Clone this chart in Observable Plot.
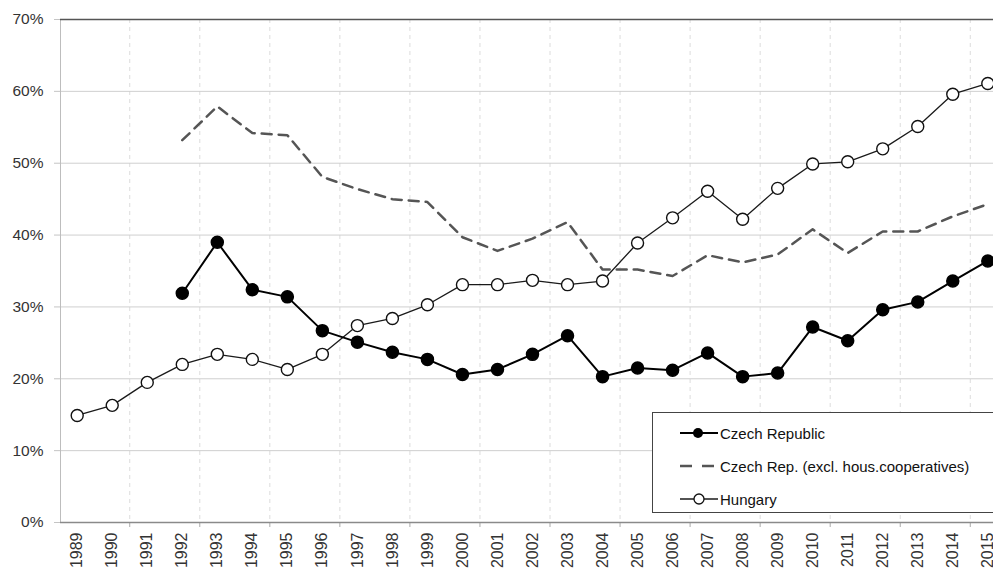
<!DOCTYPE html>
<html><head><meta charset="utf-8">
<script src="https://cdn.jsdelivr.net/npm/d3@7"></script>
<script src="https://cdn.jsdelivr.net/npm/@observablehq/plot@0.6"></script>
<style>
body{margin:0;background:#fff;overflow:hidden}
#wrap{position:relative;width:993px;height:571px;overflow:hidden;font-family:"Liberation Sans",Arial,sans-serif}
#legend{position:absolute;left:652px;top:412px;width:360px;height:101px;border:1.5px solid #444;background:#fff;box-sizing:border-box}
.row{position:absolute;left:26px;height:20px;display:flex;align-items:center;font-size:15px;color:#111;white-space:nowrap}
.row svg{margin-right:1px}
</style></head>
<body><div id="wrap"></div>
<script>
const years = [1989,1990,1991,1992,1993,1994,1995,1996,1997,1998,1999,2000,2001,2002,2003,2004,2005,2006,2007,2008,2009,2010,2011,2012,2013,2014,2015];
const czech = [null,null,null,31.9,39.0,32.4,31.4,26.7,25.1,23.7,22.7,20.6,21.3,23.4,26.0,20.3,21.5,21.2,23.6,20.3,20.8,27.2,25.3,29.6,30.7,33.6,36.4];
const czechExcl = [null,null,null,53.2,57.9,54.2,53.9,48.1,46.4,45.0,44.6,39.7,37.8,39.5,41.8,35.2,35.2,34.3,37.2,36.2,37.3,40.8,37.5,40.5,40.5,42.6,44.3];
const hungary = [14.9,16.3,19.5,22.0,23.4,22.7,21.3,23.4,27.4,28.4,30.3,33.1,33.1,33.7,33.1,33.6,38.9,42.4,46.1,42.2,46.5,49.9,50.2,52.0,55.1,59.6,61.1];
const yTicks = [0,10,20,30,40,50,60,70];
const seriesNames = ["Czech Republic","Czech Rep. (excl. hous.cooperatives)","Hungary"];

const toRows = arr => years.map((year,i)=>({year, value: arr[i]})).filter(d=>d.value!=null);
const cz = toRows(czech), cze = toRows(czechExcl), hu = toRows(hungary);
const bounds = years.filter((y,i)=>i%2===1 && y<2015).map(y=>y+0.5);

const chart = Plot.plot({
  width: 993, height: 571,
  marginLeft: 60, marginRight: 0, marginTop: 19, marginBottom: 49,
  x: {domain: [1988.523, 2015.163]},
  y: {domain: [0, 70]},
  style: {fontFamily: "'Liberation Sans', Arial, sans-serif", background: "white", color: "#333"},
  marks: [
    Plot.ruleX(bounds, {stroke: "#dcdcdc", strokeDasharray: "4,4", strokeWidth: 1}),
    Plot.ruleY(yTicks.filter(d => d > 0 && d < 70), {stroke: "#cfcfcf", strokeWidth: 1}),
    Plot.axisY({ticks: yTicks, label: null, tickSize: 6, tickPadding: 11, tickFormat: d => d + "%", stroke: "#c4c4c4", fill: "#333", fontSize: 15.5}),
    Plot.frame({anchor: "left", stroke: "#bdbdbd"}),
    Plot.axisX({ticks: bounds, label: null, tickSize: 5, tickFormat: () => "", stroke: "#aaa"}),
    Plot.axisX({ticks: years, label: null, tickSize: 0, tickPadding: 10, tickRotate: -90, tickFormat: d => String(d), fill: "#333", fontSize: 16}),
    Plot.ruleY([0], {stroke: "#8a8a8a", strokeWidth: 1.5}),
    Plot.ruleY([70], {stroke: "#555", strokeWidth: 1.5}),
    Plot.line(cze, {x: "year", y: "value", stroke: "#555", strokeWidth: 2.5, strokeDasharray: "10,7"}),
    Plot.line(hu, {x: "year", y: "value", stroke: "#1a1a1a", strokeWidth: 1.3}),
    Plot.dot(hu, {x: "year", y: "value", r: 6, fill: "white", stroke: "#111", strokeWidth: 1.4}),
    Plot.line(cz, {x: "year", y: "value", stroke: "#000", strokeWidth: 2}),
    Plot.dot(cz, {x: "year", y: "value", r: 6, fill: "#000", stroke: "#000"})
  ]
});
const wrap = document.getElementById("wrap");
wrap.appendChild(chart);

const legend = document.createElement("div");
legend.id = "legend";
const swatches = [
  `<svg width="40" height="14"><line x1="1" y1="7" x2="39" y2="7" stroke="#000" stroke-width="2"/><circle cx="19" cy="7" r="5" fill="#000"/></svg>`,
  `<svg width="40" height="14"><line x1="1" y1="7" x2="35" y2="7" stroke="#555" stroke-width="2.5" stroke-dasharray="12,10"/></svg>`,
  `<svg width="40" height="14"><line x1="1" y1="7" x2="39" y2="7" stroke="#1a1a1a" stroke-width="1.3"/><circle cx="20" cy="7" r="5" fill="#fff" stroke="#111" stroke-width="1.3"/></svg>`
];
const tops = [10, 43, 76];
seriesNames.forEach((name,i)=>{
  const r = document.createElement("div");
  r.className = "row";
  r.style.top = tops[i] + "px";
  r.innerHTML = swatches[i] + `<span>${name}</span>`;
  legend.appendChild(r);
});
wrap.appendChild(legend);
</script>
</body></html>
